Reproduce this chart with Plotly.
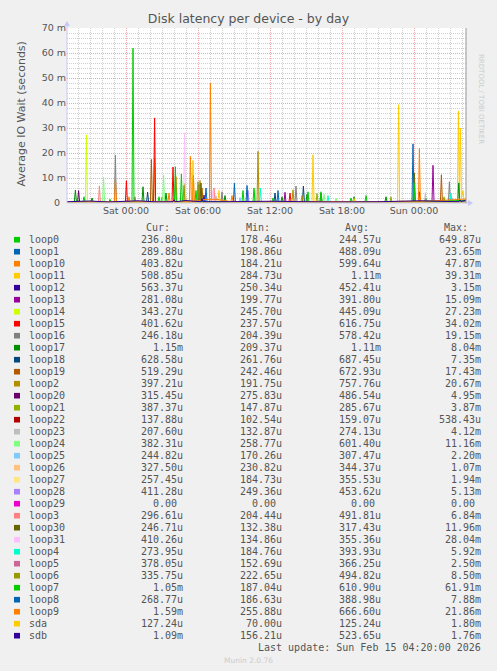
import plotly.graph_objects as go

# Legend rows, in the order munin prints them
names = ["loop0", "loop1", "loop10", "loop11", "loop12", "loop13", "loop14", "loop15",
         "loop16", "loop17", "loop18", "loop19", "loop2", "loop20", "loop21", "loop22",
         "loop23", "loop24", "loop25", "loop26", "loop27", "loop28", "loop29", "loop3",
         "loop30", "loop31", "loop4", "loop5", "loop6", "loop7", "loop8", "loop9",
         "sda", "sdb"]
colors = ["#00CC00", "#0066B3", "#FF8000", "#FFCC00", "#330099", "#990099", "#CCFF00", "#FF0000",
          "#808080", "#008F00", "#00487D", "#B35A00", "#B38F00", "#6B006B", "#8FB300", "#B30000",
          "#BEBEBE", "#80FF80", "#80C9FF", "#FFC080", "#FFE680", "#AA80FF", "#EE00CC", "#FF8080",
          "#666600", "#FFBFFF", "#00FFCC", "#CC6699", "#999900", "#00CC00", "#0066B3", "#FF8000",
          "#FFCC00", "#330099"]
cur = ["236.80u", "289.88u", "403.82u", "508.85u", "563.37u", "281.08u", "343.27u", "401.62u",
       "246.18u", "1.15m", "628.58u", "519.29u", "397.21u", "315.45u", "387.37u", "137.88u",
       "207.60u", "382.31u", "244.82u", "327.50u", "257.45u", "411.28u", "0.00 ", "296.61u",
       "246.71u", "410.26u", "273.95u", "378.05u", "335.75u", "1.05m", "268.77u", "1.59m",
       "127.24u", "1.09m"]
mins = ["178.46u", "198.86u", "184.21u", "284.73u", "250.34u", "199.77u", "245.70u", "237.57u",
        "204.39u", "209.37u", "261.76u", "242.46u", "191.75u", "275.83u", "147.87u", "102.54u",
        "132.87u", "258.77u", "170.26u", "230.82u", "184.73u", "249.36u", "0.00 ", "204.44u",
        "132.38u", "134.86u", "184.76u", "152.69u", "222.65u", "187.04u", "186.63u", "255.88u",
        "70.00u", "156.21u"]
avgs = ["244.57u", "488.09u", "599.64u", "1.11m", "452.41u", "391.80u", "445.09u", "616.75u",
        "578.42u", "1.11m", "687.45u", "672.93u", "757.76u", "486.54u", "285.67u", "159.07u",
        "274.13u", "601.40u", "307.47u", "344.37u", "355.53u", "453.62u", "0.00 ", "491.81u",
        "317.43u", "355.36u", "393.93u", "366.25u", "494.82u", "610.90u", "388.98u", "666.60u",
        "125.24u", "523.65u"]
maxs = ["649.87u", "23.65m", "47.87m", "39.31m", "3.15m", "15.09m", "27.23m", "34.02m",
        "19.15m", "8.04m", "7.35m", "17.43m", "20.67m", "4.95m", "3.87m", "538.43u",
        "4.12m", "11.16m", "2.20m", "1.07m", "1.94m", "5.13m", "0.00 ", "6.84m",
        "11.96m", "28.04m", "5.92m", "2.50m", "8.50m", "61.91m", "7.88m", "21.86m",
        "1.80m", "1.76m"]

# IO wait samples in milliseconds, ("DD HH:MM" of Feb 2026, value)
loop0 = [("13 19:05", 0.24), ("13 23:00", 0.25), ("14 10:00", 0.26), ("14 10:05", 0.65),
         ("14 10:10", 0.25), ("14 20:00", 0.22), ("15 04:20", 0.24)]
loop1 = [("13 19:05", 0.35), ("14 06:00", 0.4), ("14 06:05", 2.5), ("14 06:10", 0.35),
         ("14 23:50", 0.35), ("14 23:55", 23.65), ("15 00:00", 0.4), ("15 04:20", 0.29)]
loop10 = [("13 19:05", 0.4), ("14 02:18", 0.4), ("14 02:23", 18.0), ("14 02:28", 0.5),
          ("14 03:30", 0.4), ("14 03:35", 4.0), ("14 03:40", 0.4), ("14 04:05", 0.4),
          ("14 04:10", 10.5), ("14 04:15", 0.4), ("14 05:17", 0.4), ("14 05:22", 18.7),
          ("14 05:27", 0.5), ("14 06:57", 0.4), ("14 07:02", 47.87), ("14 07:07", 0.5),
          ("15 04:20", 0.4)]
loop11 = [("13 19:05", 0.6), ("14 05:30", 0.6), ("14 05:35", 17.0), ("14 05:40", 0.7),
          ("14 07:40", 0.6), ("14 07:45", 5.0), ("14 07:50", 0.6), ("14 15:30", 0.6),
          ("14 15:35", 19.3), ("14 15:40", 0.6), ("14 22:38", 0.6), ("14 22:43", 39.31),
          ("14 22:48", 0.7), ("15 03:37", 0.6), ("15 03:42", 36.7), ("15 03:47", 1.5),
          ("15 03:52", 30.0), ("15 03:57", 2.0), ("15 04:05", 5.0), ("15 04:10", 1.0),
          ("15 04:20", 0.51)]
loop12 = [("13 19:05", 0.45), ("14 06:25", 0.45), ("14 06:30", 3.15), ("14 06:35", 0.45),
          ("15 04:20", 0.56)]
loop13 = [("13 19:05", 0.35), ("14 13:10", 0.35), ("14 13:15", 4.3), ("14 13:20", 0.35),
          ("15 01:30", 0.35), ("15 01:35", 15.09), ("15 01:40", 0.35), ("15 04:20", 0.28)]
loop14 = [("13 19:05", 0.4), ("13 20:37", 0.4), ("13 20:42", 27.23), ("13 20:47", 0.4),
          ("15 04:20", 0.34)]
loop15 = [("13 19:05", 0.45), ("13 23:57", 0.45), ("14 00:02", 8.9), ("14 00:07", 0.45),
          ("14 02:18", 0.45), ("14 02:23", 34.02), ("14 02:28", 0.5), ("14 03:50", 0.45),
          ("14 03:55", 14.4), ("14 04:00", 0.45), ("14 13:35", 0.45), ("14 13:40", 4.0),
          ("14 13:45", 0.45), ("15 00:22", 0.45), ("15 00:27", 4.5), ("15 00:32", 0.45),
          ("15 04:20", 0.4)]
loop16 = [("13 19:05", 0.4), ("13 23:02", 0.4), ("13 23:07", 19.15), ("13 23:12", 0.4),
          ("14 07:55", 0.4), ("14 08:00", 4.5), ("14 08:05", 0.4), ("14 14:05", 0.4),
          ("14 14:10", 6.8), ("14 14:15", 0.4), ("15 02:52", 0.4), ("15 02:57", 8.5),
          ("15 03:02", 0.4), ("15 04:20", 0.25)]
loop17 = [("13 19:05", 0.6), ("13 19:42", 0.6), ("13 19:47", 5.2), ("13 19:52", 0.6),
          ("13 21:05", 0.6), ("13 21:10", 2.0), ("13 21:15", 0.6),
          ("14 01:20", 0.6), ("14 01:25", 6.5), ("14 01:30", 0.6), ("14 03:15", 0.6),
          ("14 03:20", 4.0), ("14 03:25", 0.6), ("14 08:10", 0.6), ("14 08:15", 3.0),
          ("14 08:20", 0.6), ("14 12:55", 0.6), ("14 13:00", 2.5), ("14 13:05", 0.6),
          ("14 15:00", 0.6),
          ("14 15:05", 3.5), ("14 15:10", 0.6), ("14 16:10", 0.6), ("14 16:15", 4.0),
          ("14 16:20", 0.6), ("14 18:55", 0.6), ("14 19:00", 2.5), ("14 19:05", 0.6),
          ("14 21:35", 0.6), ("14 21:40", 2.5), ("14 21:45", 0.6), ("15 00:55", 0.6),
          ("15 01:00", 2.0), ("15 01:05", 0.6), ("15 03:39", 0.6),
          ("15 03:44", 8.04), ("15 03:49", 0.8), ("15 04:20", 1.15)]
loop18 = [("13 19:05", 0.5), ("14 01:43", 0.5), ("14 01:48", 4.4), ("14 01:53", 0.5),
          ("14 06:00", 0.5), ("14 06:05", 7.35), ("14 06:10", 0.5), ("14 12:20", 0.5),
          ("14 12:25", 4.0), ("14 12:30", 0.5), ("14 14:42", 0.5), ("14 14:47", 6.8),
          ("14 14:52", 0.5), ("15 04:20", 0.63)]
loop19 = [("13 19:05", 0.45), ("14 02:02", 0.45), ("14 02:07", 17.43), ("14 02:12", 0.5),
          ("14 06:15", 0.45), ("14 06:20", 6.0), ("14 06:25", 0.45), ("15 02:12", 0.45),
          ("15 02:17", 11.3), ("15 02:22", 0.45), ("15 04:20", 0.52)]
loop2 = [("13 19:05", 0.5), ("14 04:50", 0.5), ("14 04:55", 7.9), ("14 05:00", 0.5),
         ("14 06:05", 0.5), ("14 06:10", 9.0), ("14 06:15", 0.5), ("14 10:55", 0.5),
         ("14 11:00", 20.67), ("14 11:05", 0.5), ("14 13:50", 0.5), ("14 13:55", 5.3),
         ("14 14:00", 0.5), ("14 14:35", 0.5), ("14 14:40", 3.0), ("14 14:45", 0.5),
         ("15 04:20", 0.4)]
loop20 = [("13 19:05", 0.45), ("13 19:58", 0.45), ("13 20:03", 4.95), ("13 20:08", 0.45),
          ("15 04:20", 0.32)]
loop21 = [("13 19:05", 0.25), ("14 02:55", 0.25), ("14 03:00", 2.5), ("14 03:05", 0.25),
          ("14 15:50", 0.25), ("14 15:55", 3.87), ("14 16:00", 0.25), ("14 22:00", 0.25),
          ("14 22:05", 2.5), ("14 22:10", 0.25), ("15 02:25", 0.25), ("15 02:30", 2.5),
          ("15 02:35", 0.25), ("15 04:20", 0.39)]
loop22 = [("13 19:05", 0.15), ("14 08:25", 0.15), ("14 08:30", 0.54), ("14 08:35", 0.15),
          ("15 04:20", 0.14)]
loop23 = [("13 19:05", 0.25), ("14 07:25", 0.25), ("14 07:30", 3.0), ("14 07:35", 0.25),
          ("15 00:52", 0.25), ("15 00:57", 4.12), ("15 01:02", 0.25), ("15 04:20", 0.21)]
loop24 = [("13 19:05", 0.5), ("13 22:03", 0.5), ("13 22:08", 10.4), ("13 22:13", 0.5),
          ("14 03:03", 0.5), ("14 03:08", 11.16), ("14 03:13", 0.5), ("14 10:40", 0.5),
          ("14 10:45", 5.0), ("14 10:50", 0.5), ("14 16:25", 0.5), ("14 16:30", 3.5),
          ("14 16:35", 0.5), ("14 17:25", 0.5), ("14 17:30", 2.0), ("14 17:35", 0.5),
          ("15 04:20", 0.38)]
loop25 = [("13 19:05", 0.28), ("14 09:25", 0.28), ("14 09:30", 2.2), ("14 09:35", 0.28),
          ("15 04:20", 0.24)]
loop26 = [("13 19:05", 0.33), ("14 07:25", 0.33), ("14 07:30", 1.07), ("14 07:35", 0.33),
          ("15 04:20", 0.33)]
loop27 = [("13 19:05", 0.33), ("14 07:40", 0.33), ("14 07:45", 1.94), ("14 07:50", 0.33),
          ("15 04:20", 0.26)]
loop28 = [("13 19:05", 0.4), ("14 10:05", 0.4), ("14 10:10", 5.13), ("14 10:15", 0.4),
          ("15 03:05", 0.4), ("15 03:10", 1.9), ("15 03:15", 0.4), ("15 04:20", 0.41)]
loop29 = [("13 19:05", 0.0), ("15 04:20", 0.0)]
loop3 = [("13 19:05", 0.45), ("13 21:42", 0.45), ("13 21:47", 6.84), ("13 21:52", 0.45),
         ("14 07:15", 0.45), ("14 07:20", 6.0), ("14 07:25", 0.45), ("15 04:20", 0.3)]
loop30 = [("13 19:05", 0.3), ("14 06:10", 0.3), ("14 06:15", 8.0), ("14 06:20", 0.3),
          ("14 23:57", 0.3), ("15 00:02", 11.96), ("15 00:07", 0.3), ("15 04:20", 0.25)]
loop31 = [("13 19:05", 0.3), ("14 04:48", 0.3), ("14 04:53", 28.04), ("14 04:58", 0.3),
          ("14 07:10", 0.3), ("14 07:15", 5.0), ("14 07:20", 0.3), ("15 04:20", 0.41)]
loop4 = [("13 19:05", 0.35), ("14 11:07", 0.35), ("14 11:12", 5.92), ("14 11:17", 0.35),
         ("14 16:45", 0.35), ("14 16:50", 3.0), ("14 16:55", 0.35), ("15 03:00", 0.35),
         ("15 03:05", 4.0), ("15 03:10", 0.35), ("15 04:20", 0.27)]
loop5 = [("13 19:05", 0.35), ("14 00:40", 0.35), ("14 00:45", 2.5), ("14 00:50", 0.35),
         ("15 04:20", 0.38)]
loop6 = [("13 19:05", 0.45), ("14 04:45", 0.45), ("14 04:50", 7.0), ("14 04:55", 0.45),
         ("14 05:55", 0.45), ("14 06:00", 8.5), ("14 06:05", 0.45), ("15 04:20", 0.34)]
loop7 = [("13 19:05", 0.5), ("13 20:25", 0.5), ("13 20:30", 2.5), ("13 20:35", 0.5),
         ("13 22:35", 0.5), ("13 22:40", 1.5), ("13 22:45", 0.5),
         ("14 00:30", 0.5), ("14 00:35", 61.91), ("14 00:40", 0.6), ("14 02:40", 0.5),
         ("14 02:45", 2.5), ("14 02:50", 0.5), ("14 04:02", 0.5),
         ("14 04:07", 14.5), ("14 04:12", 0.5), ("14 04:32", 0.5), ("14 04:37", 11.6),
         ("14 04:42", 0.5), ("14 05:45", 0.5), ("14 05:50", 5.0), ("14 05:55", 0.5),
         ("14 09:40", 0.5), ("14 09:45", 5.0), ("14 09:50", 0.5),
         ("14 10:35", 0.5), ("14 10:40", 6.0), ("14 10:45", 0.5), ("14 12:10", 0.5),
         ("14 12:15", 2.0), ("14 12:20", 0.5), ("14 15:05", 0.5),
         ("14 15:10", 4.5), ("14 15:15", 0.5), ("14 16:10", 0.5), ("14 16:15", 4.5),
         ("14 16:20", 0.5), ("14 18:40", 0.5), ("14 18:45", 2.0), ("14 18:50", 0.5),
         ("14 19:55", 0.5), ("14 20:00", 3.0), ("14 20:05", 0.5), ("14 23:55", 0.5),
         ("15 00:00", 8.0), ("15 00:05", 0.6), ("15 04:20", 1.05)]
loop8 = [("13 19:05", 0.35), ("14 06:35", 0.35), ("14 06:40", 6.0), ("14 06:45", 0.35),
         ("14 08:57", 0.35), ("14 09:02", 7.88), ("14 09:07", 0.35), ("14 10:00", 0.35),
         ("14 10:05", 7.0), ("14 10:10", 0.35), ("14 12:35", 0.35), ("14 12:40", 5.0),
         ("14 12:45", 0.35), ("15 04:20", 0.27)]
loop9 = [("13 19:05", 0.55), ("14 00:10", 0.55), ("14 00:15", 2.5), ("14 00:20", 0.55),
         ("13 23:02", 0.55), ("13 23:07", 10.0), ("13 23:12", 0.55), ("14 05:32", 0.55),
         ("14 05:37", 11.0), ("14 05:42", 0.55), ("14 06:30", 1.4), ("14 07:30", 1.5),
         ("14 08:45", 0.55), ("14 08:50", 3.0), ("14 08:55", 0.55), ("15 00:22", 0.55),
         ("15 00:27", 21.86), ("15 00:32", 0.6), ("15 04:20", 1.59)]
sda = [("13 19:05", 0.12), ("14 18:55", 0.12), ("14 19:00", 1.8), ("14 19:05", 0.12),
       ("15 04:20", 0.13)]
sdb = [("13 19:05", 0.5), ("13 21:00", 0.8), ("13 22:30", 0.4), ("14 01:00", 0.9),
       ("14 02:30", 0.45), ("14 03:55", 0.5), ("14 04:00", 1.3), ("14 04:05", 0.5),
       ("14 05:00", 1.0), ("14 06:15", 0.5), ("14 06:20", 1.76), ("14 06:25", 0.5),
       ("14 08:00", 0.5), ("14 12:00", 0.7), ("14 17:00", 0.4), ("14 21:00", 0.5),
       ("15 00:30", 0.9), ("15 02:00", 0.6), ("15 03:45", 0.5), ("15 03:50", 1.2),
       ("15 03:55", 0.6), ("15 04:20", 1.09)]

series = [loop0, loop1, loop10, loop11, loop12, loop13, loop14, loop15, loop16, loop17,
          loop18, loop19, loop2, loop20, loop21, loop22, loop23, loop24, loop25, loop26,
          loop27, loop28, loop29, loop3, loop30, loop31, loop4, loop5, loop6, loop7,
          loop8, loop9, sda, sdb]

ytick_vals = [0, 10, 20, 30, 40, 50, 60, 70]
ytick_text = ["0\u00a0\u00a0", "10 m", "20 m", "30 m", "40 m", "50 m", "60 m", "70 m"]

# plot box in pixels
W, H = 497, 671
L, R, T, B = 67, 466, 28, 203
GREY = "#555555"
SANS = "DejaVu Sans"
MONO = "DejaVu Sans Mono"


def px(x):
    return (x - L) / (R - L)


def py(y):
    return (B - y) / (B - T)


fig = go.Figure()
for name, color, pts in zip(names, colors, series):
    pts = sorted(pts)
    fig.add_trace(go.Scatter(
        x=["2026-02-" + t for t, v in pts],
        y=[v for t, v in pts],
        mode="lines", name=name,
        line=dict(color=color, width=1),
        showlegend=False, hoverinfo="skip"))

ann = []
# y axis title
ann.append(dict(x=px(12), y=py(114), xref="paper", yref="paper", text="Average IO Wait (seconds)",
                textangle=-90, showarrow=False, font=dict(family=SANS, size=11, color=GREY)))
# rrdtool watermark
ann.append(dict(x=px(487), y=py(52), xref="paper", yref="paper", text="RRDTOOL / TOBI OETIKER",
                textangle=90, showarrow=False, font=dict(family=SANS, size=7, color="#CCCCCC")))

# legend table
ann_font = dict(family=MONO, size=10, color=GREY)
for label, xr in zip(["Cur:", "Min:", "Avg:", "Max:"], [172, 272, 371, 470]):
    ann.append(dict(x=px(xr), y=py(227.3), xref="paper", yref="paper", text=label,
                    xanchor="right", yanchor="middle", showarrow=False, font=ann_font))

shapes = []
for i, name in enumerate(names):
    yc = 239.7 + 12 * i
    shapes.append(dict(type="rect", xref="paper", yref="paper",
                       x0=px(14), x1=px(20), y0=py(yc - 2.8), y1=py(yc + 2.8),
                       fillcolor=colors[i], line=dict(width=0)))
    ann.append(dict(x=px(27), y=py(yc), xref="paper", yref="paper", text=name,
                    xanchor="left", yanchor="middle", showarrow=False, font=ann_font))
    for col, xr in zip([cur, mins, avgs, maxs], [185, 284, 383, 483]):
        ann.append(dict(x=px(xr), y=py(yc), xref="paper", yref="paper",
                        text=col[i].replace(" ", "\u00a0"),
                        xanchor="right", yanchor="middle", showarrow=False, font=ann_font))

ann.append(dict(x=px(483), y=py(647.7), xref="paper", yref="paper",
                text="Last update: Sun Feb 15 04:20:00 2026".replace(" ", "\u00a0"),
                xanchor="right", yanchor="middle", showarrow=False, font=ann_font))
ann.append(dict(x=px(248), y=py(660), xref="paper", yref="paper", text="Munin 2.0.76",
                xanchor="center", yanchor="middle", showarrow=False,
                font=dict(family=SANS, size=7.5, color="#CCCCCC")))

# axis lines with arrow heads, and the right border
axis_col = "#C8C8F4"
shapes.append(dict(type="line", xref="paper", yref="paper", x0=px(L), x1=px(470), y0=0, y1=0,
                   line=dict(color=axis_col, width=1)))
shapes.append(dict(type="path", xref="paper", yref="paper", fillcolor=axis_col, line=dict(width=0),
                   path=f"M {px(468)} {py(200)} L {px(473)} {py(203)} L {px(468)} {py(206)} Z"))
shapes.append(dict(type="line", xref="paper", yref="paper", x0=0, x1=0, y0=0, y1=py(23),
                   line=dict(color=axis_col, width=1)))
shapes.append(dict(type="path", xref="paper", yref="paper", fillcolor=axis_col, line=dict(width=0),
                   path=f"M {px(64)} {py(26)} L {px(67)} {py(21)} L {px(70)} {py(26)} Z"))
shapes.append(dict(type="line", xref="paper", yref="paper", x0=1, x1=1, y0=0, y1=1,
                   line=dict(color="#999999", width=1)))

fig.update_layout(
    width=W, height=H,
    margin=dict(l=L, r=W - R, t=T, b=H - B),
    paper_bgcolor="#F0F0F0", plot_bgcolor="#FFFFFF",
    title=dict(text="Disk latency per device - by day", x=0.5, xanchor="center",
               y=1 - 19 / H, yanchor="middle", font=dict(family=SANS, size=12.5, color=GREY)),
    xaxis=dict(type="date", range=["2026-02-13 19:05", "2026-02-15 04:20"],
               tick0="2026-02-14 00:00", dtick=6 * 3600 * 1000, tickformat="%a %H:%M",
               showgrid=True, gridcolor="#F0A8A8", griddash="1px,1px", gridwidth=1,
               minor=dict(dtick=3600 * 1000, showgrid=True, gridcolor="#D0D0D0",
                          griddash="1px,1px"),
               zeroline=False, showline=False, ticks="",
               tickfont=dict(family=SANS, size=9.5, color=GREY)),
    yaxis=dict(range=[0, 70], tickvals=ytick_vals, ticktext=ytick_text,
               showgrid=True, gridcolor="#F0A8A8", griddash="1px,1px", gridwidth=1,
               minor=dict(dtick=2, showgrid=True, gridcolor="#D0D0D0", griddash="1px,1px"),
               zeroline=False, showline=False, ticks="",
               tickfont=dict(family=SANS, size=9.5, color=GREY)),
    annotations=ann, shapes=shapes,
)

# the page's default body margin would shift the whole figure by 8px
fig.write_html("out.html", config={"displayModeBar": False},
               post_script="document.body.style.margin='0';")
